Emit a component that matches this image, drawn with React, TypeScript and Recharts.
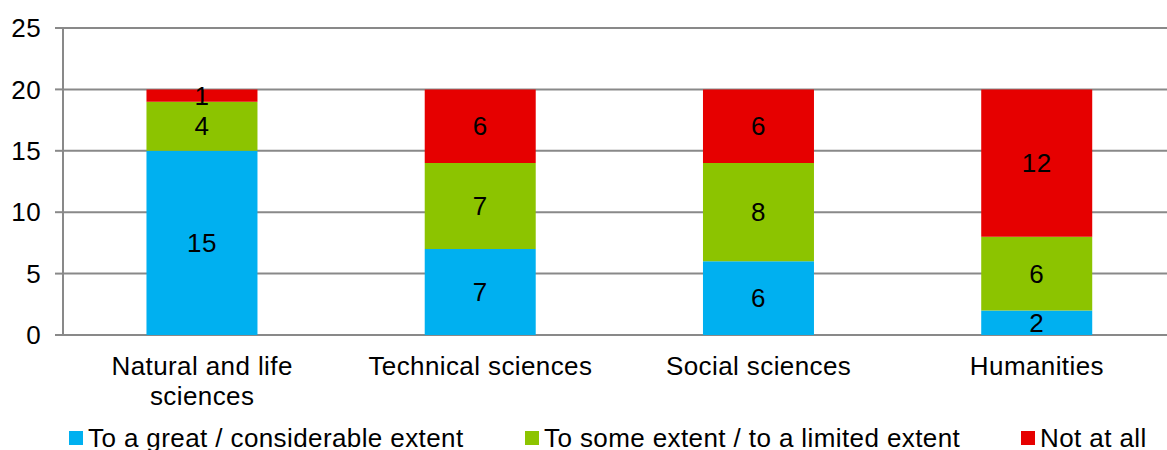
import React from "react";
import { BarChart, Bar, XAxis, YAxis, CartesianGrid, Legend, LabelList } from "recharts";

// Field categories (a "\n" marks where a label breaks onto a second line)
const categories = ["Natural and life\nsciences", "Technical sciences", "Social sciences", "Humanities"];

// Number of respondents per answer
const greatExtent = [15, 7, 6, 2];
const someExtent = [4, 7, 8, 6];
const notAtAll = [1, 6, 6, 12];

const seriesKeys = ["great", "some", "none"];
const seriesNames = [
  "To a great / considerable extent",
  "To some extent / to a limited extent",
  "Not at all",
];
const seriesColors = ["#00B0F0", "#8CC400", "#E60000"];

const yTicks = [0, 5, 10, 15, 20, 25];
const categoryEdges = [0, 1, 2, 3, 4];

const data = categories.map((name, i) => ({
  name,
  great: greatExtent[i],
  some: someExtent[i],
  none: notAtAll[i],
}));

const FONT = "'Liberation Sans', Arial, sans-serif";
const FONT_SIZE = 26;
const SPACING = 0.4;
const GRID = "#898989";

const CategoryTick = (props: any) => {
  const { x, y, payload } = props;
  const lines = String(payload.value).split("\n");
  return (
    <text
      x={x}
      y={y}
      textAnchor="middle"
      fill="#000"
      fontSize={FONT_SIZE}
      fontFamily={FONT}
      letterSpacing={SPACING}
    >
      {lines.map((line, i) => (
        <tspan key={i} x={x} dy={i === 0 ? 40 : 30}>
          {line}
        </tspan>
      ))}
    </text>
  );
};

// Legend drawn in series order with fixed slots
const LegendContent = () => {
  const widths = [456, 496, 200];
  return (
    <div style={{ display: "flex", paddingLeft: 69, height: 28, alignItems: "center", width: 1300 }}>
      {seriesNames.map((label, i) => (
        <div
          key={label}
          style={{ display: "flex", alignItems: "center", width: widths[i], flexShrink: 0, height: 28 }}
        >
          <span
            style={{ width: 14, height: 14, background: seriesColors[i], marginRight: 5, display: "inline-block", flexShrink: 0 }}
          />
          <span
            style={{
              fontSize: FONT_SIZE,
              lineHeight: "28px",
              fontFamily: FONT,
              letterSpacing: SPACING,
              color: "#000",
              whiteSpace: "nowrap",
            }}
          >
            {label}
          </span>
        </div>
      ))}
    </div>
  );
};

export default function App() {
  return (
    <div
      style={{
        position: "fixed",
        left: 0,
        top: 0,
        width: 1167,
        height: 450,
        overflow: "hidden",
        background: "#fff",
      }}
    >
      <BarChart
        width={1190}
        height={480}
        data={data}
        margin={{ top: 28, right: 14, left: 0, bottom: 28 }}
        barCategoryGap="30%"
      >
        <CartesianGrid vertical={false} stroke={GRID} strokeWidth={2} />
        {/* boundary ticks between categories */}
        <XAxis
          xAxisId={0}
          type="number"
          domain={[0, 4]}
          ticks={categoryEdges}
          tick={false}
          axisLine={false}
          tickLine={{ stroke: GRID, strokeWidth: 2 }}
          tickSize={7}
          height={0}
          allowDataOverflow
        />
        <XAxis
          xAxisId={1}
          dataKey="name"
          type="category"
          axisLine={false}
          tickLine={false}
          tickSize={0}
          tickMargin={0}
          height={89}
          interval={0}
          tick={<CategoryTick />}
        />
        <YAxis
          width={63}
          domain={[0, 25]}
          ticks={yTicks}
          interval={0}
          axisLine={{ stroke: GRID, strokeWidth: 2 }}
          tickLine={{ stroke: GRID, strokeWidth: 2 }}
          tickSize={8}
          tickMargin={14}
          tick={{ fill: "#000", fontSize: FONT_SIZE, fontFamily: FONT, letterSpacing: SPACING }}
        />
        <Legend verticalAlign="bottom" content={<LegendContent />} />
        {seriesKeys.map((key, i) => (
          <Bar
            key={key}
            xAxisId={1}
            dataKey={key}
            name={seriesNames[i]}
            stackId="a"
            fill={seriesColors[i]}
            isAnimationActive={false}
          >
            <LabelList
              dataKey={key}
              position="center"
              fill="#000"
              fontSize={FONT_SIZE}
              fontFamily={FONT}
              letterSpacing={SPACING}
            />
          </Bar>
        ))}
      </BarChart>
    </div>
  );
}
